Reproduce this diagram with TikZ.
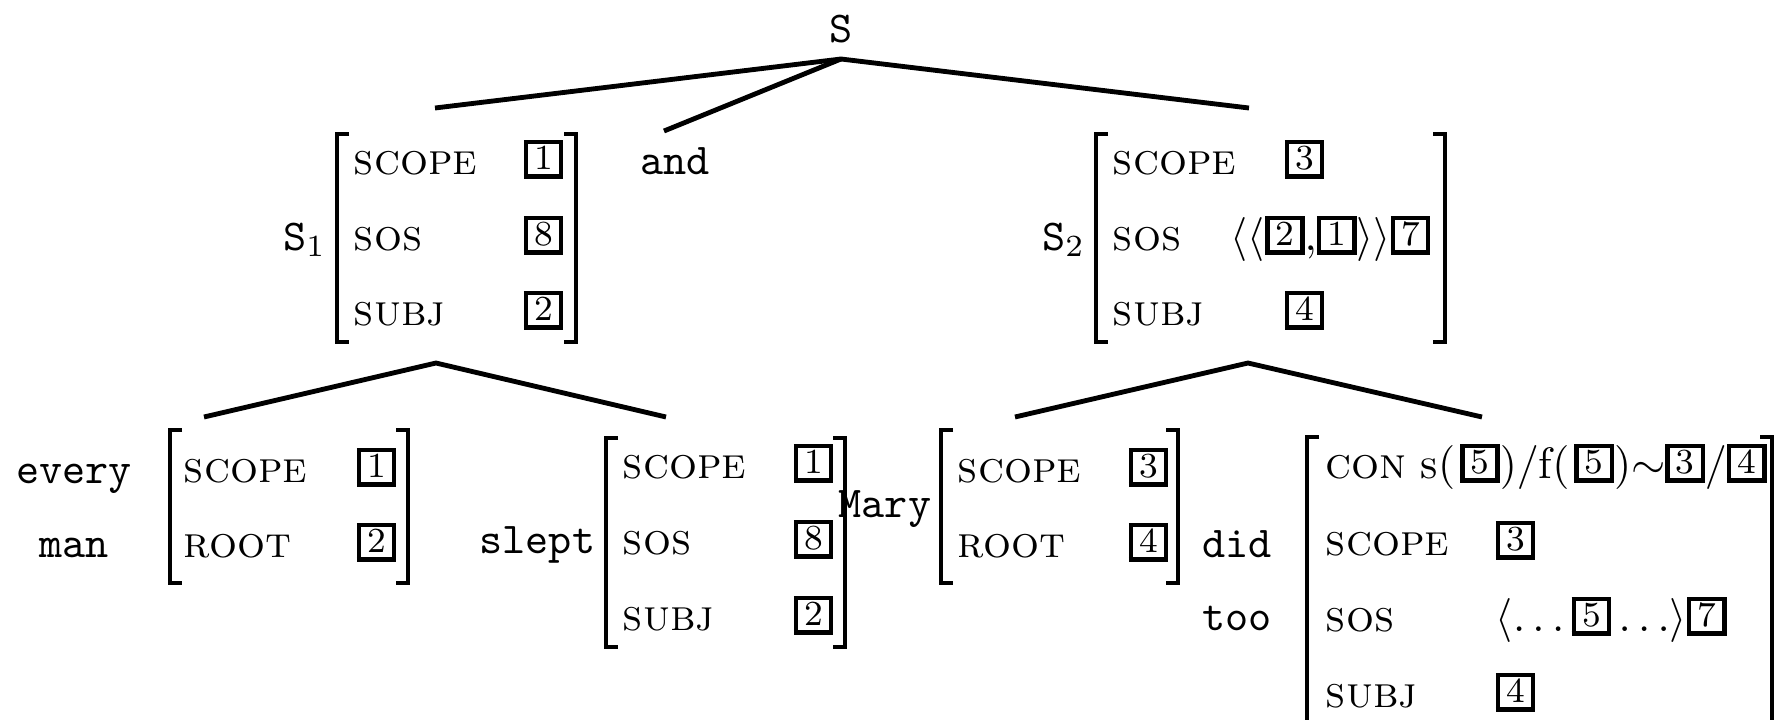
\documentclass[tikz,border=0pt]{standalone}
\usetikzlibrary{calc}

% boxed index (tag) used as an attribute value
\newcommand\tg[1]{{\fboxrule=1pt\fboxsep=0pt\fbox{\rule[-0.1pt]{0pt}{6.9pt}\makebox[7.0pt]{\raisebox{1.1pt}{\footnotesize #1}}}}}
% attribute name
\newcommand\ft[1]{\textsc{#1}}
% square brackets of an attribute-value matrix: x, top, bottom
\newcommand\lbrk[3]{\draw[brk] ({#1+12},#2) -- (#1,#2) -- (#1,#3) -- ({#1+12},#3);}
\newcommand\rbrk[3]{\draw[brk] ({#1-12},#2) -- (#1,#2) -- (#1,#3) -- ({#1-12},#3);}

\tikzset{
  lbl/.style={font=\ttfamily, inner sep=0pt, anchor=base},
  feat/.style={inner sep=0pt, anchor=base west},
  val/.style={inner sep=0pt, anchor=base west},
  branch/.style={line width=1.1pt},
  brk/.style={line width=1.1pt},
}

\begin{document}
\begin{tikzpicture}[x=0.22727pt, y=-0.22727pt]
\clip (0,0) rectangle (1775,720);

% ---------- root ----------
\node[lbl] (S) at (841,42.7) {S};
\coordinate (Sapex) at (841,59);
\coordinate (S1top) at (435,108);
\coordinate (andtop) at (664,131);
\coordinate (S2top) at (1249,108);
\draw[branch] (S1top) -- (Sapex) -- (S2top);
\draw[branch] (Sapex) -- (andtop);

% ---------- S1 ----------
\node[lbl, anchor=base east] (S1) at (327,250) {S$_1$};
\lbrk{337}{134}{342}
\rbrk{576}{134}{342}
\node[feat] (s1-scope) at (353,174) {\ft{scope}};
\node[feat] (s1-sos)   at (353,250) {\ft{sos}};
\node[feat] (s1-subj)  at (353,325) {\ft{subj}};
\node[val] (s1-v1) at (523,174) {\tg{1}};
\node[val] (s1-v2) at (523,250) {\tg{8}};
\node[val] (s1-v3) at (523,325) {\tg{2}};

% ---------- and ----------
\node[lbl] (and) at (675,174) {and};

% ---------- S2 ----------
\node[lbl, anchor=base east] (S2) at (1086,250) {S$_2$};
\lbrk{1096}{134}{342}
\rbrk{1445}{134}{342}
\node[feat] (s2-scope) at (1112,174) {\ft{scope}};
\node[feat] (s2-sos)   at (1112,250) {\ft{sos}};
\node[feat] (s2-subj)  at (1112,325) {\ft{subj}};
\node[val] (s2-v1) at (1284,174) {\tg{3}};
\node[val] (s2-v2) at (1230,250) {$\langle\langle\tg{2}{,}\tg{1}\rangle\rangle\tg{7}$};
\node[val] (s2-v3) at (1284,325) {\tg{4}};

% ---------- subtree of S1 ----------
\coordinate (S1apex) at (436,363);
\coordinate (NPtop) at (204,417);
\coordinate (VPtop) at (666,417);
\draw[branch] (NPtop) -- (S1apex) -- (VPtop);

% every man
\node[lbl] (every) at (74,483) {every};
\node[lbl] (man)   at (74,557) {man};
\lbrk{170}{430}{583}
\rbrk{408}{430}{583}
\node[feat] (np-scope) at (183,482) {\ft{scope}};
\node[feat] (np-root)  at (183,557) {\ft{root}};
\node[val] (np-v1) at (356,482) {\tg{1}};
\node[val] (np-v2) at (356,557) {\tg{2}};

% slept
\node[lbl, anchor=base east] (slept) at (596,553) {slept};
\lbrk{606}{438}{647}
\rbrk{845}{438}{647}
\node[feat] (vp-scope) at (622,478) {\ft{scope}};
\node[feat] (vp-sos)   at (622,554) {\ft{sos}};
\node[feat] (vp-subj)  at (622,630) {\ft{subj}};
\node[val] (vp-v1) at (793,478) {\tg{1}};
\node[val] (vp-v2) at (793,554) {\tg{8}};
\node[val] (vp-v3) at (793,630) {\tg{2}};

% ---------- subtree of S2 ----------
\coordinate (S2apex) at (1248,363);
\coordinate (MaryTop) at (1015,417);
\coordinate (DidTop) at (1482,417);
\draw[branch] (MaryTop) -- (S2apex) -- (DidTop);

% Mary
\node[lbl, anchor=base east] (Mary) at (932,517) {Mary};
\lbrk{941}{430}{583}
\rbrk{1178}{430}{583}
\node[feat] (m-scope) at (957,482) {\ft{scope}};
\node[feat] (m-root)  at (957,557) {\ft{root}};
\node[val] (m-v1) at (1128,482) {\tg{3}};
\node[val] (m-v2) at (1128,557) {\tg{4}};

% did too
\node[lbl] (did) at (1237,557) {did};
\node[lbl] (too) at (1237,630) {too};
\lbrk{1307}{437}{740}
\rbrk{1772}{437}{740}
\node[feat] (d-con) at (1325,478) {\ft{con}};
\node[val] (d-conval) at (1420,478) {s$(\mkern2mu\tg{5})/$f$(\mkern2mu\tg{5}){\sim}\tg{3}/\tg{4}$};
\node[feat] (d-scope) at (1325,555) {\ft{scope}};
\node[feat] (d-sos)   at (1325,631) {\ft{sos}};
\node[feat] (d-subj)  at (1325,707) {\ft{subj}};
\node[val] (d-v1) at (1495,555) {\tg{3}};
\node[val] (d-v2) at (1495,631) {$\langle\ldots\tg{5}\ldots\rangle\tg{7}$};
\node[val] (d-v3) at (1495,707) {\tg{4}};
\end{tikzpicture}
\end{document}
